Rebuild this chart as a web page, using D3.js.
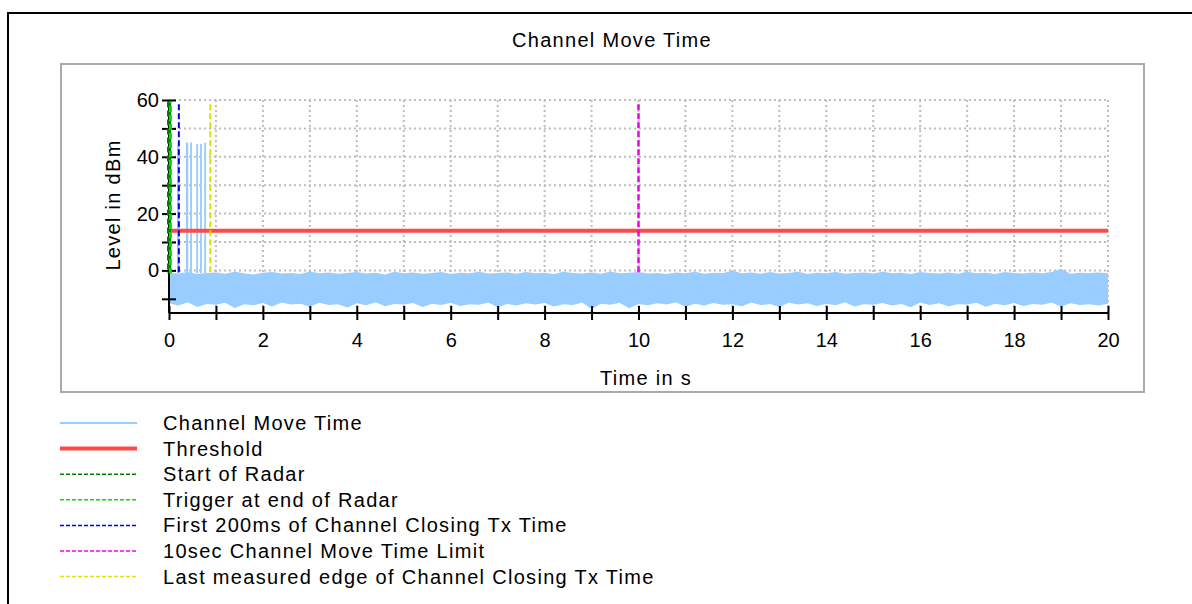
<!DOCTYPE html>
<html lang="en">
<head>
    <meta charset="UTF-8">
    <title>Channel Move Time</title>
    <script src="https://d3js.org/d3.v7.min.js"></script>
    <style>
        body { margin: 0; background: #fff; }
        text { font-family: "Liberation Sans", Arial, sans-serif; font-size: 20px; fill: #000; }
        .lbl { letter-spacing: 1.3px; }
        .axis path, .axis line { stroke: #000; stroke-width: 2; }
        .grid line { stroke: #bdbdbd; stroke-width: 2; stroke-dasharray: 2,3; }
    </style>
</head>
<body>
    <div id="chart"></div>
    <script>
        // noise floor envelope, sampled every 0.2 s (dBm)
        const noiseTimes = d3.range(0, 20.0001, 0.2);
        const noiseHi = [-0.8,-1.1,-0.6,-1.3,-0.9,-0.7,-1.2,-0.5,-1.0,-1.4,
            -0.8,-0.6,-1.1,-0.9,-1.3,-0.4,-1.0,-0.7,-1.2,-0.9,
            -0.6,-1.1,-0.8,-1.4,-0.5,-1.0,-0.7,-1.2,-0.9,-0.6,
            -1.3,-0.8,-1.0,-0.5,-1.1,-0.9,-0.7,-1.2,-0.6,-1.0,
            -0.8,-1.3,-0.5,-0.9,-1.1,-0.7,-1.2,-0.4,-1.0,-0.8,
            -0.6,-1.1,-0.9,-1.3,-0.7,-1.0,-0.5,-1.2,-0.8,-0.9,
            -0.1,-1.0,-0.7,-1.2,-0.6,-1.1,-0.9,-0.5,-1.3,-0.8,
            -1.0,-0.6,-1.2,-0.9,-0.7,-1.1,-0.5,-1.0,-0.8,-1.3,
            -0.6,-0.9,-1.1,-0.7,-1.2,-0.5,-1.0,-0.8,-1.3,-0.6,
            -0.9,-1.1,-0.7,-1.0,-0.6,0.6,-1.2,-0.8,-0.9,-0.7,-1.0];
        const noiseLo = [-11.6,-12.4,-11.2,-12.9,-11.8,-12.1,-11.4,-13.2,-11.9,-12.3,
            -11.5,-12.7,-11.3,-12.0,-11.7,-12.8,-11.4,-12.2,-11.9,-13.1,
            -11.6,-12.3,-11.2,-12.6,-11.8,-12.0,-11.5,-12.9,-11.7,-12.2,
            -11.4,-12.5,-11.9,-12.1,-11.3,-13.0,-11.8,-12.4,-11.6,-12.0,
            -11.5,-12.7,-11.9,-12.2,-11.3,-13.6,-11.7,-12.1,-11.4,-13.3,
            -11.8,-12.3,-11.6,-12.0,-11.2,-12.8,-11.7,-12.4,-11.5,-12.1,
            -11.9,-12.6,-11.3,-12.2,-11.8,-12.9,-11.4,-12.0,-11.6,-12.5,
            -11.7,-12.3,-11.2,-12.7,-11.9,-12.1,-11.5,-12.4,-11.8,-13.0,
            -11.3,-12.2,-11.6,-12.6,-11.9,-12.0,-11.4,-12.8,-11.7,-12.3,
            -11.5,-12.5,-11.8,-12.1,-11.3,-12.7,-11.6,-12.2,-11.9,-12.4,-11.7];

        // transmission bursts after the radar
        const burstStart = [0.00, 0.17, 0.36, 0.45, 0.58, 0.66, 0.75];
        const burstEnd   = [0.05, 0.22, 0.41, 0.49, 0.62, 0.70, 0.79];
        const burstPeak  = [46, 44, 45, 45, 44.5, 44.5, 45];

        const threshold = 14;

        // vertical marker lines
        const markerNames = ["Start of Radar", "Trigger at end of Radar", "First 200ms of Channel Closing Tx Time",
            "10sec Channel Move Time Limit", "Last measured edge of Channel Closing Tx Time"];
        const markerTimes = [0.0, 0.03, 0.21, 10.0, 0.88];
        const markerTop = [59.5, 59.5, 58.5, 58.5, 58.5];
        const markerBottom = -1;

        const xTicks = d3.range(0, 21, 1);
        const yTicks = d3.range(-10, 61, 10);

        const legendNames = ["Channel Move Time", "Threshold"].concat(markerNames);

        const colors = {
            "Channel Move Time": "#99ccff",
            "Threshold": "#ff4a4a",
            "Start of Radar": "#008000",
            "Trigger at end of Radar": "#00e000",
            "First 200ms of Channel Closing Tx Time": "#0000ee",
            "10sec Channel Move Time Limit": "#ee00ee",
            "Last measured edge of Channel Closing Tx Time": "#e0e000"
        };

        const W = 1192, H = 604;
        const svg = d3.select("#chart").append("svg")
            .attr("width", W).attr("height", H);

        // outer frame and chart box
        svg.append("path")
            .attr("d", "M8,604V13H1192")
            .attr("fill", "none").attr("stroke", "#000").attr("stroke-width", 2);
        svg.append("rect")
            .attr("x", 61).attr("y", 64).attr("width", 1083).attr("height", 328)
            .attr("fill", "none").attr("stroke", "#aaa").attr("stroke-width", 2);

        svg.append("text").attr("class", "lbl")
            .attr("x", 612).attr("y", 47).attr("text-anchor", "middle")
            .text("Channel Move Time");

        const x = d3.scaleLinear().domain([0, 20]).range([169, 1108]);
        const y = d3.scaleLinear().domain([-15, 60]).range([313, 100]);

        // grid
        const grid = svg.append("g").attr("class", "grid");
        grid.selectAll(".gx").data(xTicks.filter(d => d > 0)).join("line")
            .attr("x1", d => x(d)).attr("x2", d => x(d))
            .attr("y1", y(60)).attr("y2", y(-15));
        grid.selectAll(".gy").data(yTicks).join("line")
            .attr("x1", x(0)).attr("x2", x(20))
            .attr("y1", d => y(d)).attr("y2", d => y(d));

        // noise floor
        const noise = noiseTimes.map((t, i) => ({ t: t, hi: noiseHi[i], lo: noiseLo[i] }));
        svg.append("path")
            .datum(noise)
            .attr("fill", colors["Channel Move Time"])
            .attr("d", d3.area().x(d => x(d.t)).y0(d => y(d.lo)).y1(d => y(d.hi)));

        // bursts
        svg.selectAll(".burst")
            .data(burstStart.map((s, i) => ({ s: s, e: burstEnd[i], p: burstPeak[i] })))
            .join("rect")
            .attr("x", d => x(d.s))
            .attr("width", d => x(d.e) - x(d.s))
            .attr("y", d => y(d.p))
            .attr("height", d => y(-1) - y(d.p))
            .attr("fill", colors["Channel Move Time"]);

        // threshold
        svg.append("line")
            .attr("x1", x(0)).attr("x2", x(20))
            .attr("y1", y(threshold)).attr("y2", y(threshold))
            .attr("stroke", colors["Threshold"]).attr("stroke-width", 4);

        // axes
        const xAxis = svg.append("g")
            .attr("class", "axis")
            .attr("transform", `translate(0,${y(-15)})`)
            .call(d3.axisBottom(x).tickValues(xTicks).tickSize(7).tickPadding(13)
                .tickFormat(d => d % 2 === 0 ? d : ""));
        xAxis.selectAll(".tick line").attr("y1", -7);
        xAxis.select(".domain").attr("d", `M${x(0)},0H${x(20)}`);

        const yAxis = svg.append("g")
            .attr("class", "axis")
            .attr("transform", `translate(${x(0)},0)`)
            .call(d3.axisLeft(y).tickValues(yTicks).tickSize(7).tickPadding(3)
                .tickFormat(d => d % 20 === 0 ? d : ""));
        yAxis.selectAll(".tick line").attr("x1", 7);
        yAxis.select(".domain").attr("d", `M0,${y(60)}V${y(-15)}`);
        svg.selectAll(".axis text").style("font-size", "20px")
            .style("font-family", "'Liberation Sans', Arial, sans-serif");

        // markers on top of the axis
        const markerWidth = [4, 3, 2, 2.5, 2];
        svg.selectAll(".marker")
            .data(markerNames)
            .join("line")
            .attr("x1", (d, i) => x(markerTimes[i])).attr("x2", (d, i) => x(markerTimes[i]))
            .attr("y1", (d, i) => y(markerTop[i])).attr("y2", y(markerBottom))
            .attr("stroke", d => colors[d])
            .attr("stroke-width", (d, i) => markerWidth[i])
            .attr("stroke-dasharray", "6,3")
            .attr("stroke-dashoffset", (d, i) => i == 1 ? 4.5 : 0);

        svg.append("text").attr("class", "lbl")
            .attr("x", 646).attr("y", 385).attr("text-anchor", "middle")
            .text("Time in s");
        svg.append("text").attr("class", "lbl")
            .attr("transform", "translate(120,205) rotate(-90)")
            .attr("text-anchor", "middle")
            .text("Level in dBm");

        // legend
        const legend = svg.append("g").attr("transform", "translate(60,423)");
        const rows = legend.selectAll("g").data(legendNames).join("g")
            .attr("transform", (d, i) => `translate(0,${i * 25.6})`);
        rows.append("line")
            .attr("x1", 0).attr("x2", 77)
            .attr("stroke", d => colors[d])
            .attr("stroke-width", (d, i) => i == 1 ? 4 : (i == 0 ? 2 : 1.5))
            .attr("stroke-dasharray", (d, i) => i > 1 ? "4,2" : null);
        rows.append("text").attr("class", "lbl")
            .attr("x", 103).attr("y", 7)
            .text(d => d);
    </script>
</body>
</html>
